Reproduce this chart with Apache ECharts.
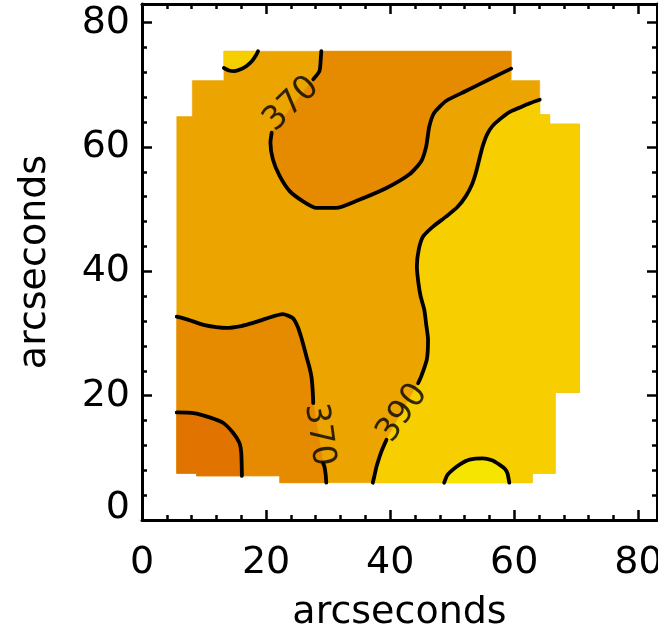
<!DOCTYPE html>
<html>
<head>
<meta charset="utf-8">
<script src="https://cdn.jsdelivr.net/npm/echarts@6/dist/echarts.min.js"></script>
<style>
  html, body { margin: 0; padding: 0; background: #fff; }
  #chart { width: 658px; height: 636px; }
</style>
</head>
<body>
<div id="chart"></div>
<script>
// axis range and tick labels (arcseconds)
const axisMax = 83;
const tickLabels = ['0', '20', '40', '60', '80'];

// colours for each contour band
const bandColors = {
  below350: '#E17300',
  from350: '#E68B00',
  from370: '#ECA400',
  from390: '#F7CE00',
  above410: '#F6E500'
};

// outline of the mapped area
const footprint = [
  [5.6, 7.5], [8.8, 7.5], [8.8, 7.1], [22.2, 7.1], [22.2, 6.0], [62.9, 6.0],
  [62.9, 7.5], [66.6, 7.5], [66.6, 20.5], [70.5, 20.5], [70.5, 63.7],
  [65.7, 63.7], [65.7, 65.2], [64.1, 65.2], [64.1, 70.7], [59.5, 70.7],
  [59.5, 75.4], [13.2, 75.4], [13.2, 70.7], [8.1, 70.7], [8.1, 64.9], [5.6, 64.9]
];

// contour 350, lower left
const line350 = [
  [5.6, 17.3], [8.3, 17.2], [10.9, 16.5], [13.1, 15.6], [14.7, 14.0],
  [15.7, 12.4], [16.0, 10.7], [16.1, 7.1]
];

// contour 370, lower left (split where its label sits)
const line370LowA = [
  [5.6, 32.7], [7.5, 32.2], [9.9, 31.4], [13.6, 30.9], [16.0, 31.2], [17.9, 31.7],
  [20.0, 32.4], [22.7, 33.1], [24.3, 32.5], [25.1, 31.1], [25.6, 29.6],
  [26.0, 28.2], [26.5, 26.3], [27.0, 24.5], [27.3, 23.1], [27.5, 21.0], [27.6, 18.8]
];
const line370LowB = [[29.2, 9.1], [29.4, 8.6], [29.6, 7.3], [29.7, 6.0]];

// contour 370, top
const line370TopA = [[28.9, 75.4], [28.8, 74.0], [28.6, 72.2], [27.6, 70.9]];
const line370TopB = [
  [20.9, 62.3], [20.7, 60.7], [21.1, 58.0], [22.2, 55.3], [23.8, 52.9], [25.9, 51.3],
  [28.1, 50.2], [31.3, 50.2], [34.5, 51.3], [39.4, 53.4], [43.1, 55.6], [45.0, 57.7],
  [45.8, 60.1], [46.3, 63.3], [47.1, 65.5], [49.0, 67.4], [52.2, 69.0], [56.0, 70.9],
  [59.5, 72.6]
];

// contour 390, middle
const line390A = [[37.2, 6.0], [37.5, 7.3], [37.8, 8.6], [38.5, 10.8], [39.4, 12.9]];
const line390B = [
  [44.5, 22.0], [45.0, 23.1], [45.9, 25.8], [46.1, 29.0], [45.8, 31.5], [45.5, 33.8],
  [44.9, 36.0], [44.5, 38.5], [44.3, 40.8], [44.6, 43.5], [45.3, 45.6], [46.9, 47.2],
  [49.0, 48.8], [50.8, 50.3], [52.2, 52.1], [53.2, 54.0], [53.8, 55.8], [54.4, 58.2],
  [54.9, 60.1], [55.6, 62.0], [56.5, 63.4], [57.6, 64.4], [59.2, 65.6], [60.8, 66.3],
  [62.4, 67.0], [64.1, 67.6]
];

// contour 390, small patch top left
const line390Top = [
  [13.2, 72.7], [14.0, 72.3], [14.9, 72.2], [15.9, 72.5], [16.8, 73.0],
  [17.7, 73.8], [18.4, 74.8], [18.7, 75.4]
];

// contour 410, bottom right
const line410 = [
  [48.7, 6.0], [49.2, 7.2], [50.1, 8.1], [51.3, 9.0], [52.8, 9.7], [54.9, 9.9],
  [56.4, 9.6], [57.6, 8.9], [58.5, 8.2], [58.9, 7.5], [59.2, 6.0]
];

// contour labels
const labelText = ['370', '370', '390'];
const labelAt = [[24.1, 66.9], [28.5, 13.7], [42.0, 17.2]];
const labelAngle = [44, -82, 55];

const FONT = 'DejaVu Sans';

// closed regions, built from the contour lines and the footprint edges
const regionBase = footprint;
const regionLow370 = line370LowA.concat(line370LowB,
  [[22.2, 6.0], [22.2, 7.1], [8.8, 7.1], [8.8, 7.5], [5.6, 7.5]]);
const regionLow350 = line350.concat([[8.8, 7.1], [8.8, 7.5], [5.6, 7.5]]);
const regionTop370 = line370TopA.concat(line370TopB, [[59.5, 75.4]]);
const regionMid390 = line390A.concat(line390B,
  [[64.1, 65.2], [65.7, 65.2], [65.7, 63.7], [70.5, 63.7], [70.5, 20.5],
   [66.6, 20.5], [66.6, 7.5], [62.9, 7.5], [62.9, 6.0]]);
const regionTop390 = line390Top.concat([[13.2, 75.4]]);
const regionHigh410 = line410;

function regionSeries(points, color) {
  return {
    type: 'custom',
    coordinateSystem: 'cartesian2d',
    silent: true,
    z: 1,
    data: points,
    renderItem(params, api) {
      if (params.dataIndex !== 0) {
        return null;
      }
      return {
        type: 'polygon',
        shape: { points: points.map((p) => api.coord(p)), smooth: 0 },
        style: { fill: color, stroke: color, lineWidth: 0.5 }
      };
    }
  };
}

function contourSeries(points) {
  return {
    type: 'line',
    data: points,
    symbol: 'none',
    smooth: 0.2,
    silent: true,
    z: 3,
    lineStyle: { color: '#000', width: 3.8, join: 'round', cap: 'round' }
  };
}

function labelFor(v) {
  return v % 20 === 0 ? String(v) : '';
}

const labelStyle = { color: '#000', fontFamily: FONT, fontSize: 38 };

function makeXAxis(position, interval, tickLength, withLine, withLabels) {
  return {
    type: 'value', position, min: 0, max: axisMax, interval,
    splitLine: { show: false },
    axisLine: { show: withLine, onZero: false, lineStyle: { color: '#000', width: 3 } },
    axisTick: { show: true, inside: true, length: tickLength, lineStyle: { color: '#000', width: 2.5 } },
    axisLabel: withLabels
      ? Object.assign({ margin: 24, formatter: labelFor }, labelStyle)
      : { show: false },
    name: withLabels ? 'arcseconds' : '',
    nameLocation: 'middle',
    nameGap: 74,
    nameTextStyle: labelStyle
  };
}

function makeYAxis(position, interval, tickLength, withLine, withLabels) {
  return {
    type: 'value', position, min: 0, max: axisMax, interval,
    splitLine: { show: false },
    axisLine: { show: withLine, onZero: false, lineStyle: { color: '#000', width: 3 } },
    axisTick: { show: true, inside: true, length: tickLength, lineStyle: { color: '#000', width: 2.5 } },
    axisLabel: withLabels
      ? Object.assign({
          margin: 12,
          formatter: (v) => (v === 0 ? '{zero|' + tickLabels[0] + '}' : labelFor(v)),
          rich: { zero: Object.assign({ padding: [0, 0, 24, 0] }, labelStyle) }
        }, labelStyle)
      : { show: false },
    name: withLabels ? 'arcseconds' : '',
    nameLocation: 'middle',
    nameRotate: 90,
    nameGap: 88,
    nameTextStyle: labelStyle
  };
}

const chart = echarts.init(document.getElementById('chart'), null, { renderer: 'canvas' });

chart.setOption({
  animation: false,
  backgroundColor: '#fff',
  grid: { left: 142, top: 4, width: 515, height: 516, outerBoundsMode: 'none', containLabel: false },
  xAxis: [
    makeXAxis('bottom', 4, 5, true, true),
    makeXAxis('bottom', 20, 10, false, false),
    makeXAxis('top', 4, 5, true, false),
    makeXAxis('top', 20, 10, false, false)
  ],
  yAxis: [
    makeYAxis('left', 4, 5, true, true),
    makeYAxis('left', 20, 10, false, false),
    makeYAxis('right', 4, 5, true, false),
    makeYAxis('right', 20, 10, false, false)
  ],
  series: [
    regionSeries(regionBase, bandColors.from370),
    regionSeries(regionLow370, bandColors.from350),
    regionSeries(regionLow350, bandColors.below350),
    regionSeries(regionTop370, bandColors.from350),
    regionSeries(regionMid390, bandColors.from390),
    regionSeries(regionTop390, bandColors.from390),
    regionSeries(regionHigh410, bandColors.above410),
    contourSeries(line350),
    contourSeries(line370LowA),
    contourSeries(line370LowB),
    contourSeries(line370TopA),
    contourSeries(line370TopB),
    contourSeries(line390A),
    contourSeries(line390B),
    contourSeries(line390Top),
    contourSeries(line410),
    {
      type: 'scatter',
      symbolSize: 0,
      silent: true,
      z: 4,
      data: labelAt.map((p, i) => ({
        value: p,
        label: { formatter: labelText[i], rotate: labelAngle[i] }
      })),
      label: {
        show: true,
        position: 'inside',
        color: '#000',
        fontFamily: FONT,
        fontSize: 33
      }
    }
  ]
});
</script>
</body>
</html>
